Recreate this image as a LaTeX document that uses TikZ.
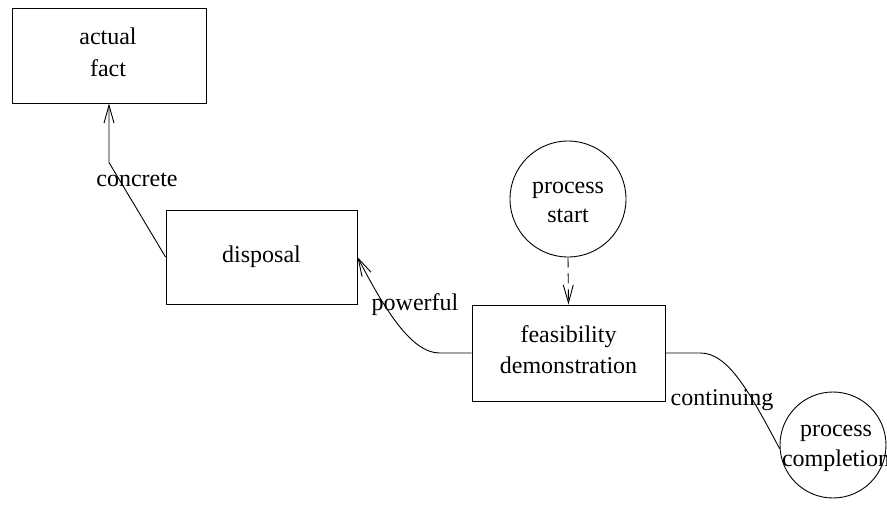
\documentclass[tikz,border=0pt]{standalone}
\usepackage{fontspec}
\setmainfont{Liberation Serif}
\usetikzlibrary{arrows.meta,shapes.geometric}
\tikzset{
  box/.style={draw, line width=0.9pt, rectangle, inner sep=0pt},
  ring/.style={draw, line width=0.9pt, circle, inner sep=0pt},
  txt/.style={inner sep=0pt, anchor=base, font=\fontsize{24}{30}\selectfont},
  conn/.style={line width=0.9pt},
  arr/.style={conn, -{Straight Barb[length=18pt,width=10pt,line width=0.9pt]}},
}
\begin{document}
\begin{tikzpicture}[x=1pt,y=-1pt]
\useasboundingbox (0,0) rectangle (887,506);
% shapes
\node[box, minimum width=194pt, minimum height=95pt] (af) at (109,55.5) {};
\node[box, minimum width=191pt, minimum height=94pt] (disp) at (261.5,257) {};
\node[box, minimum width=193pt, minimum height=96pt] (feas) at (568.5,353) {};
\node[ring, minimum size=116pt] (ps) at (568,199) {};
\node[ring, minimum size=106pt] (pc) at (833,445) {};
% texts
\node[txt] (t1) at (108,45) {actual};
\node[txt] (t2) at (108,76.5) {fact};
\node[txt] (t3) at (261.5,262) {disposal};
\node[txt] (t4) at (568.5,342) {feasibility};
\node[txt] (t5) at (568.5,373) {demonstration};
\node[txt] (t6) at (568,193) {process};
\node[txt] (t7) at (568,222) {start};
\node[txt] (t8) at (836,436) {process};
\node[txt] (t9) at (836,466) {completion};
% connectors
\draw[arr] (disp.west) -- ([yshift=-59pt]af.south) -- (af.south);
\node[txt] (l1) at (137,186) {concrete};
\draw[arr] (feas.west) -- ++(-32,0) .. controls ++(-28,0) and (385,310) .. (disp.east);
\node[txt] (l2) at (415,310) {powerful};
\draw[conn] (feas.east) -- ++(35,0) .. controls ++(28,0) and (750,393) .. (pc.184);
\node[txt] (l3) at (722,405) {continuing};
\draw[arr, dash pattern=on 10pt off 6pt] (ps.south) -- (feas.north);
\end{tikzpicture}
\end{document}
